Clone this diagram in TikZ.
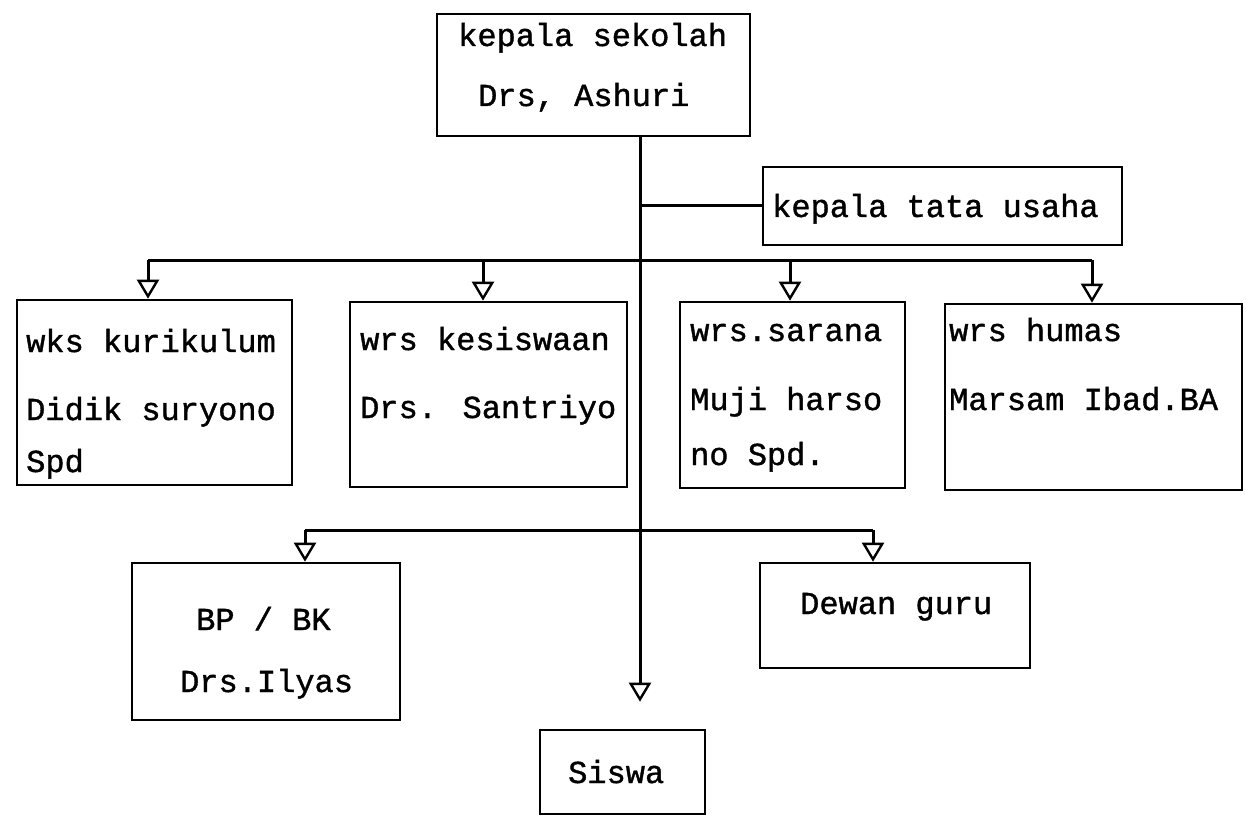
\documentclass[tikz,border=0pt]{standalone}
\usepackage{fontspec}
\setmainfont[FakeBold=1.2,AutoFakeBold=1.2]{Liberation Mono}
\usetikzlibrary{arrows.meta}
\begin{document}
\begin{tikzpicture}[x=1pt,y=-1pt,
  box/.style={draw, line width=2.6pt, inner sep=0pt, rectangle},
  lbl/.style={anchor=base west, inner sep=0pt, font=\fontsize{32}{36}\selectfont\bfseries},
  con/.style={line width=3pt},
  arr/.style={line width=3pt, -{Triangle[open, length=19pt, width=22pt, line width=2.4pt]}}]
\useasboundingbox (0,0) rectangle (1246,818);
% boxes
\node[box, minimum width=313pt, minimum height=122pt] (ks) at (593.5,75) {};
\node[box, minimum width=359pt, minimum height=78pt] (ktu) at (942.5,206) {};
\node[box, minimum width=275pt, minimum height=185pt] (wk) at (154.5,392.5) {};
\node[box, minimum width=277pt, minimum height=185pt] (wks) at (488.5,394.5) {};
\node[box, minimum width=225pt, minimum height=186pt] (wsa) at (792.5,395) {};
\node[box, minimum width=297pt, minimum height=186pt] (wh) at (1093.5,397) {};
\node[box, minimum width=268pt, minimum height=157pt] (bp) at (266,641.5) {};
\node[box, minimum width=270pt, minimum height=105pt] (dg) at (895,615.5) {};
\node[box, minimum width=165pt, minimum height=84pt] (sw) at (622.5,772) {};
% texts
\node[lbl] (t1) at (458,46) {kepala sekolah};
\node[lbl] (t2) at (478,106) {Drs, Ashuri};
\node[lbl] (t3) at (772,217) {kepala tata usaha};
\node[lbl] (t4) at (26,352) {wks kurikulum};
\node[lbl] (t5) at (26,420) {Didik suryono};
\node[lbl] (t6) at (26,472) {Spd};
\node[lbl] (t7) at (360,350) {wrs kesiswaan};
\node[lbl] (t8) at (360,418) {Drs. Santriyo};
\node[lbl] (t9) at (690,341) {wrs.sarana};
\node[lbl] (t10) at (690,410) {Muji harso};
\node[lbl] (t11) at (690,465) {no Spd.};
\node[lbl] (t12) at (949,341) {wrs humas};
\node[lbl] (t13) at (949,410) {Marsam Ibad.BA};
\node[lbl] (t14) at (196,630) {BP / BK};
\node[lbl] (t15) at (180,692) {Drs.Ilyas};
\node[lbl] (t16) at (800,614) {Dewan guru};
\node[lbl] (t17) at (568,783) {Siswa};
% connectors
\coordinate (top) at (640,136);
\coordinate (bus1) at (640,260);
\coordinate (bus2) at (640,530);
\coordinate (a1) at (148,260);
\coordinate (a2) at (483,260);
\coordinate (a3) at (790,260);
\coordinate (a4) at (1092,260);
\coordinate (b1) at (305,530);
\coordinate (b2) at (873,530);
\draw[con] (top) -- (bus2);
\draw[arr, shorten >=27pt] (bus2) -- (bus2 |- sw.north);
\draw[con] (ktu.west -| top) -- (ktu.west);
\draw[con] (a1) -- (a4);
\draw[arr] (a1) -- (a1 |- wk.north);
\draw[arr] (a2) -- (a2 |- wks.north);
\draw[arr] (a3) -- (a3 |- wsa.north);
\draw[arr] (a4) -- (a4 |- wh.north);
\draw[con] (b1) -- (b2);
\draw[arr] (b1) -- (b1 |- bp.north);
\draw[arr] (b2) -- (b2 |- dg.north);
\end{tikzpicture}
\end{document}
